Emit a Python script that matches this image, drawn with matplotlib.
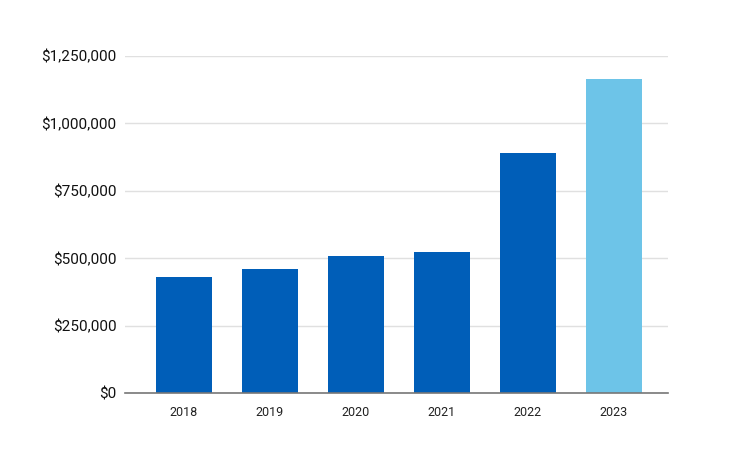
import matplotlib
matplotlib.use('Agg')
import matplotlib.pyplot as plt
from matplotlib.ticker import FuncFormatter

years = ['2018', '2019', '2020', '2021', '2022', '2023']
values = [432000, 462000, 510000, 525000, 889000, 1164000]
colors = ['#005EB8'] * 5 + ['#6DC4E8']

plt.rcParams['font.family'] = ['Roboto', 'DejaVu Sans']

fig = plt.figure(figsize=(7.29, 4.57), dpi=100)
ax = fig.add_axes([0.1715, 0.1394, 0.7448, 0.7381])

x = list(range(len(years)))
ax.bar(x, values, width=0.65, color=colors, zorder=3)

ax.set_ylim(0, 1250000)
ax.set_yticks([0, 250000, 500000, 750000, 1000000, 1250000])
ax.yaxis.set_major_formatter(FuncFormatter(lambda v, p: '${:,.0f}'.format(v)))
ax.set_xlim(-0.686, 5.628)
ax.set_xticks(x)
ax.set_xticklabels(years)

ax.grid(axis='y', color='#e0e0e0', linewidth=1, zorder=0)
for s in ['top', 'right', 'left']:
    ax.spines[s].set_visible(False)
ax.spines['bottom'].set_color('#777777')
ax.spines['bottom'].set_linewidth(1.2)
ax.spines['bottom'].set_zorder(4)

ax.tick_params(axis='y', length=0, pad=6, labelsize=11, labelcolor='#111111')
ax.tick_params(axis='x', length=0, pad=9, labelsize=9, labelcolor='#222222')

fig.savefig('out.png', dpi=100)
